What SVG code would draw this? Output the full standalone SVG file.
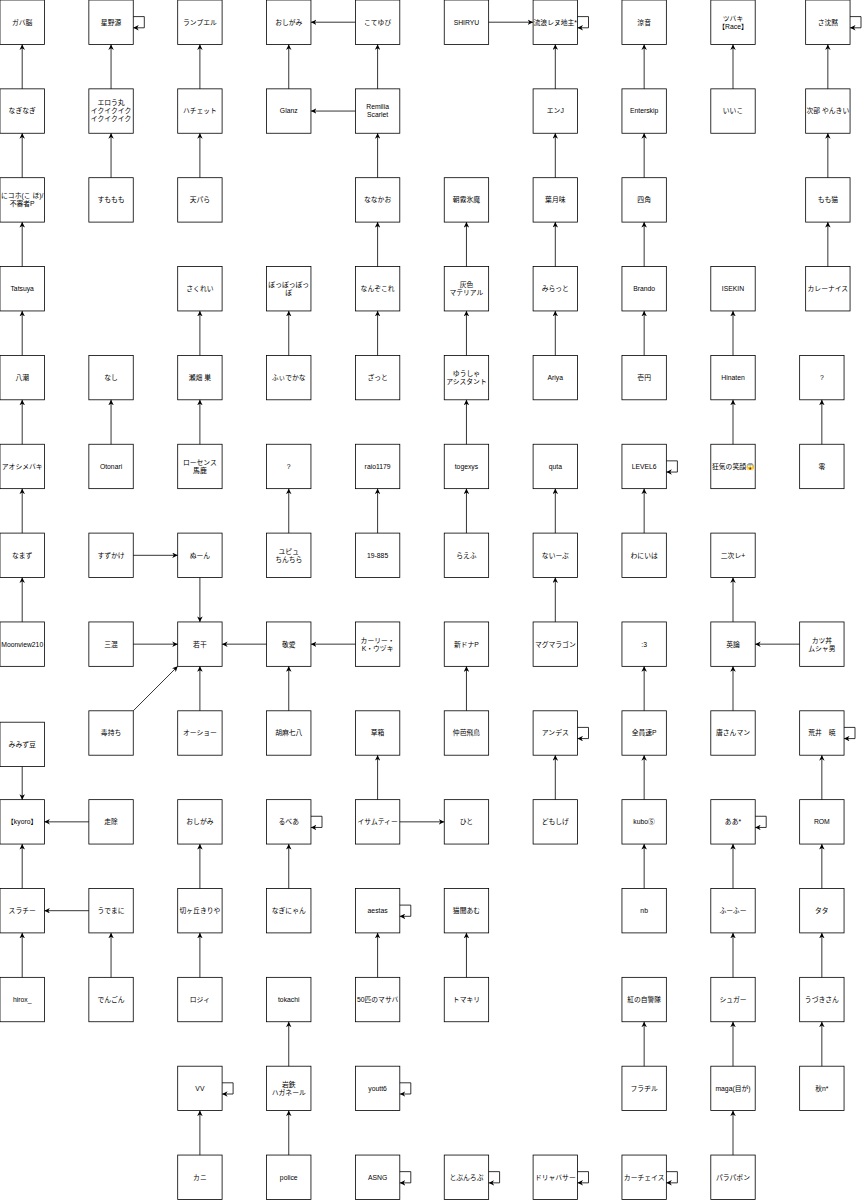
<svg xmlns="http://www.w3.org/2000/svg" width="866" height="1200" viewBox="0 0 866 1200">
<style>
rect{fill:#fff;stroke:#000;stroke-width:0.8}
text{font-family:"Liberation Sans","Noto Sans CJK JP",sans-serif;font-size:6.8px;text-anchor:middle;fill:#000}
#edges path{fill:none;stroke:#000;stroke-width:0.8;marker-end:url(#a)}
</style>
<defs>
<marker id="a" viewBox="0 0 10 10" refX="10" refY="5" markerWidth="5.5" markerHeight="5.5" markerUnits="userSpaceOnUse" orient="auto"><path d="M0,0 L10,5 L0,10 L3,5 z" fill="#000"/></marker>
<rect id="b" width="44.4" height="44.4"/>
</defs>
<g id="nodes">
<!-- row 0 -->
<g id="n0_0" transform="translate(0,0)"><use href="#b"/><text x="22.2" y="24.6">ガバ脳</text></g>
<g id="n1_0" transform="translate(88.85,0)"><use href="#b"/><text x="22.2" y="24.6">星野源</text></g>
<g id="n2_0" transform="translate(177.7,0)"><use href="#b"/><text x="22.2" y="24.6">ランプエル</text></g>
<g id="n3_0" transform="translate(266.55,0)"><use href="#b"/><text x="22.2" y="24.6">おしがみ</text></g>
<g id="n4_0" transform="translate(355.4,0)"><use href="#b"/><text x="22.2" y="24.6">こてゆび</text></g>
<g id="n5_0" transform="translate(444.25,0)"><use href="#b"/><text x="22.2" y="24.6">SHIRYU</text></g>
<g id="n6_0" transform="translate(533.1,0)"><use href="#b"/><text x="22.2" y="24.6">流浪レヌ地主*</text></g>
<g id="n7_0" transform="translate(621.95,0)"><use href="#b"/><text x="22.2" y="24.6">涼音</text></g>
<g id="n8_0" transform="translate(710.8,0)"><use href="#b"/><text x="22.2" y="20.6">ツバキ<tspan x="22.2" dy="8">【Race】</tspan></text></g>
<g id="n9_0" transform="translate(805.65,0)"><use href="#b"/><text x="22.2" y="24.6">さ沈黙</text></g>
<!-- row 1 -->
<g id="n0_1" transform="translate(0,88.85)"><use href="#b"/><text x="22.2" y="24.6">なぎなぎ</text></g>
<g id="n1_1" transform="translate(88.85,88.85)"><use href="#b"/><text x="22.2" y="16.4">エロう丸<tspan x="22.2" dy="8">イクイクイク</tspan><tspan x="22.2" dy="8">イクイクイク</tspan></text></g>
<g id="n2_1" transform="translate(177.7,88.85)"><use href="#b"/><text x="22.2" y="24.6">ハチェット</text></g>
<g id="n3_1" transform="translate(266.55,88.85)"><use href="#b"/><text x="22.2" y="24.6">Glanz</text></g>
<g id="n4_1" transform="translate(355.4,88.85)"><use href="#b"/><text x="22.2" y="20.6">Remilia<tspan x="22.2" dy="8">Scarlet</tspan></text></g>
<g id="n6_1" transform="translate(533.1,88.85)"><use href="#b"/><text x="22.2" y="24.6">エンJ</text></g>
<g id="n7_1" transform="translate(621.95,88.85)"><use href="#b"/><text x="22.2" y="24.6">Enterskip</text></g>
<g id="n8_1" transform="translate(710.8,88.85)"><use href="#b"/><text x="22.2" y="24.6">いいこ</text></g>
<g id="n9_1" transform="translate(805.65,88.85)"><use href="#b"/><text x="22.2" y="24.6">次部 やんきい</text></g>
<!-- row 2 -->
<g id="n0_2" transform="translate(0,177.7)"><use href="#b"/><text x="22.2" y="20.6">にコホ(こ ほ)/<tspan x="22.2" dy="8">不審者P</tspan></text></g>
<g id="n1_2" transform="translate(88.85,177.7)"><use href="#b"/><text x="22.2" y="24.6">すももも</text></g>
<g id="n2_2" transform="translate(177.7,177.7)"><use href="#b"/><text x="22.2" y="24.6">天パら</text></g>
<g id="n4_2" transform="translate(355.4,177.7)"><use href="#b"/><text x="22.2" y="24.6">ななかお</text></g>
<g id="n5_2" transform="translate(444.25,177.7)"><use href="#b"/><text x="22.2" y="24.6">朝霧氷魔</text></g>
<g id="n6_2" transform="translate(533.1,177.7)"><use href="#b"/><text x="22.2" y="24.6">葉月味</text></g>
<g id="n7_2" transform="translate(621.95,177.7)"><use href="#b"/><text x="22.2" y="24.6">四角</text></g>
<g id="n9_2" transform="translate(805.65,177.7)"><use href="#b"/><text x="22.2" y="24.6">もも猫</text></g>
<!-- row 3 -->
<g id="n0_3" transform="translate(0,266.55)"><use href="#b"/><text x="22.2" y="24.6">Tatsuya</text></g>
<g id="n2_3" transform="translate(177.7,266.55)"><use href="#b"/><text x="22.2" y="24.6">さくれい</text></g>
<g id="n3_3" transform="translate(266.55,266.55)"><use href="#b"/><text x="22.2" y="20.6">ぽっぽっぽっ<tspan x="22.2" dy="8">ぽ</tspan></text></g>
<g id="n4_3" transform="translate(355.4,266.55)"><use href="#b"/><text x="22.2" y="24.6">なんぞこれ</text></g>
<g id="n5_3" transform="translate(444.25,266.55)"><use href="#b"/><text x="22.2" y="20.6">灰色<tspan x="22.2" dy="8">マテリアル</tspan></text></g>
<g id="n6_3" transform="translate(533.1,266.55)"><use href="#b"/><text x="22.2" y="24.6">みらっと</text></g>
<g id="n7_3" transform="translate(621.95,266.55)"><use href="#b"/><text x="22.2" y="24.6">Brando</text></g>
<g id="n8_3" transform="translate(710.8,266.55)"><use href="#b"/><text x="22.2" y="24.6">ISEKIN</text></g>
<g id="n9_3" transform="translate(805.65,266.55)"><use href="#b"/><text x="22.2" y="24.6">カレーナイス</text></g>
<!-- row 4 -->
<g id="n0_4" transform="translate(0,355.4)"><use href="#b"/><text x="22.2" y="24.6">八潮</text></g>
<g id="n1_4" transform="translate(88.85,355.4)"><use href="#b"/><text x="22.2" y="24.6">なし</text></g>
<g id="n2_4" transform="translate(177.7,355.4)"><use href="#b"/><text x="22.2" y="24.6">瀬畑 巣</text></g>
<g id="n3_4" transform="translate(266.55,355.4)"><use href="#b"/><text x="22.2" y="24.6">ふぃでかな</text></g>
<g id="n4_4" transform="translate(355.4,355.4)"><use href="#b"/><text x="22.2" y="24.6">ざっと</text></g>
<g id="n5_4" transform="translate(444.25,355.4)"><use href="#b"/><text x="22.2" y="20.6">ゆうしゃ<tspan x="22.2" dy="8">アシスタント</tspan></text></g>
<g id="n6_4" transform="translate(533.1,355.4)"><use href="#b"/><text x="22.2" y="24.6">Ariya</text></g>
<g id="n7_4" transform="translate(621.95,355.4)"><use href="#b"/><text x="22.2" y="24.6">壱円</text></g>
<g id="n8_4" transform="translate(710.8,355.4)"><use href="#b"/><text x="22.2" y="24.6">Hinaten</text></g>
<g id="n9_4" transform="translate(799.65,355.4)"><use href="#b"/><text x="22.2" y="24.6">?</text></g>
<!-- row 5 -->
<g id="n0_5" transform="translate(0,444.25)"><use href="#b"/><text x="22.2" y="24.6">アオシメバキ</text></g>
<g id="n1_5" transform="translate(88.85,444.25)"><use href="#b"/><text x="22.2" y="24.6">Otonari</text></g>
<g id="n2_5" transform="translate(177.7,444.25)"><use href="#b"/><text x="22.2" y="20.6">ローセンス<tspan x="22.2" dy="8">馬鹿</tspan></text></g>
<g id="n3_5" transform="translate(266.55,444.25)"><use href="#b"/><text x="22.2" y="24.6">?</text></g>
<g id="n4_5" transform="translate(355.4,444.25)"><use href="#b"/><text x="22.2" y="24.6">raio1179</text></g>
<g id="n5_5" transform="translate(444.25,444.25)"><use href="#b"/><text x="22.2" y="24.6">togexys</text></g>
<g id="n6_5" transform="translate(533.1,444.25)"><use href="#b"/><text x="22.2" y="24.6">quta</text></g>
<g id="n7_5" transform="translate(621.95,444.25)"><use href="#b"/><text x="22.2" y="24.6">LEVEL6</text></g>
<g id="n8_5" transform="translate(710.8,444.25)"><use href="#b"/><text x="22.2" y="24.6">狂気の笑顔😱</text></g>
<g id="n9_5" transform="translate(799.65,444.25)"><use href="#b"/><text x="22.2" y="24.6">零</text></g>
<!-- row 6 -->
<g id="n0_6" transform="translate(0,533.1)"><use href="#b"/><text x="22.2" y="24.6">なまず</text></g>
<g id="n1_6" transform="translate(88.85,533.1)"><use href="#b"/><text x="22.2" y="24.6">すずかけ</text></g>
<g id="n2_6" transform="translate(177.7,533.1)"><use href="#b"/><text x="22.2" y="24.6">ぬーん</text></g>
<g id="n3_6" transform="translate(266.55,533.1)"><use href="#b"/><text x="22.2" y="20.6">ユピュ<tspan x="22.2" dy="8">ちんちら</tspan></text></g>
<g id="n4_6" transform="translate(355.4,533.1)"><use href="#b"/><text x="22.2" y="24.6">19-885</text></g>
<g id="n5_6" transform="translate(444.25,533.1)"><use href="#b"/><text x="22.2" y="24.6">らえふ</text></g>
<g id="n6_6" transform="translate(533.1,533.1)"><use href="#b"/><text x="22.2" y="24.6">ないーぶ</text></g>
<g id="n7_6" transform="translate(621.95,533.1)"><use href="#b"/><text x="22.2" y="24.6">わにいは</text></g>
<g id="n8_6" transform="translate(710.8,533.1)"><use href="#b"/><text x="22.2" y="24.6">二次レ+</text></g>
<!-- row 7 -->
<g id="n0_7" transform="translate(0,621.95)"><use href="#b"/><text x="22.2" y="24.6">Moonview210</text></g>
<g id="n1_7" transform="translate(88.85,621.95)"><use href="#b"/><text x="22.2" y="24.6">三混</text></g>
<g id="n2_7" transform="translate(177.7,621.95)"><use href="#b"/><text x="22.2" y="24.6">若干</text></g>
<g id="n3_7" transform="translate(266.55,621.95)"><use href="#b"/><text x="22.2" y="24.6">敬愛</text></g>
<g id="n4_7" transform="translate(355.4,621.95)"><use href="#b"/><text x="22.2" y="20.6">カーリー・<tspan x="22.2" dy="8">K・ウヅキ</tspan></text></g>
<g id="n5_7" transform="translate(444.25,621.95)"><use href="#b"/><text x="22.2" y="24.6">新ドナP</text></g>
<g id="n6_7" transform="translate(533.1,621.95)"><use href="#b"/><text x="22.2" y="24.6">マグマラゴン</text></g>
<g id="n7_7" transform="translate(621.95,621.95)"><use href="#b"/><text x="22.2" y="24.6">:3</text></g>
<g id="n8_7" transform="translate(710.8,621.95)"><use href="#b"/><text x="22.2" y="24.6">英論</text></g>
<g id="n9_7" transform="translate(799.65,621.95)"><use href="#b"/><text x="22.2" y="20.6">カツ丼<tspan x="22.2" dy="8">ムシャ男</tspan></text></g>
<!-- row 8 -->
<g id="n0_8" transform="translate(0,722.2)"><use href="#b"/><text x="22.2" y="24.6">みみず豆</text></g>
<g id="n1_8" transform="translate(88.85,710.8)"><use href="#b"/><text x="22.2" y="24.6">毒持ち</text></g>
<g id="n2_8" transform="translate(177.7,710.8)"><use href="#b"/><text x="22.2" y="24.6">オーショー</text></g>
<g id="n3_8" transform="translate(266.55,710.8)"><use href="#b"/><text x="22.2" y="24.6">胡麻七八</text></g>
<g id="n4_8" transform="translate(355.4,710.8)"><use href="#b"/><text x="22.2" y="24.6">草箱</text></g>
<g id="n5_8" transform="translate(444.25,710.8)"><use href="#b"/><text x="22.2" y="24.6">仲芭飛鳥</text></g>
<g id="n6_8" transform="translate(533.1,710.8)"><use href="#b"/><text x="22.2" y="24.6">アンデス</text></g>
<g id="n7_8" transform="translate(621.95,710.8)"><use href="#b"/><text x="22.2" y="24.6">全員速P</text></g>
<g id="n8_8" transform="translate(710.8,710.8)"><use href="#b"/><text x="22.2" y="24.6">唐さんマン</text></g>
<g id="n9_8" transform="translate(799.65,710.8)"><use href="#b"/><text x="22.2" y="24.6">荒井　暁</text></g>
<!-- row 9 -->
<g id="n0_9" transform="translate(0,799.65)"><use href="#b"/><text x="22.2" y="24.6">【kyoro】</text></g>
<g id="n1_9" transform="translate(88.85,799.65)"><use href="#b"/><text x="22.2" y="24.6">走除</text></g>
<g id="n2_9" transform="translate(177.7,799.65)"><use href="#b"/><text x="22.2" y="24.6">おしがみ</text></g>
<g id="n3_9" transform="translate(266.55,799.65)"><use href="#b"/><text x="22.2" y="24.6">るべあ</text></g>
<g id="n4_9" transform="translate(355.4,799.65)"><use href="#b"/><text x="22.2" y="24.6">イサムティー</text></g>
<g id="n5_9" transform="translate(444.25,799.65)"><use href="#b"/><text x="22.2" y="24.6">ひと</text></g>
<g id="n6_9" transform="translate(533.1,799.65)"><use href="#b"/><text x="22.2" y="24.6">どもしげ</text></g>
<g id="n7_9" transform="translate(621.95,799.65)"><use href="#b"/><text x="22.2" y="24.6">kubo⑤</text></g>
<g id="n8_9" transform="translate(710.8,799.65)"><use href="#b"/><text x="22.2" y="24.6">ああ*</text></g>
<g id="n9_9" transform="translate(799.65,799.65)"><use href="#b"/><text x="22.2" y="24.6">ROM</text></g>
<!-- row 10 -->
<g id="n0_10" transform="translate(0,888.5)"><use href="#b"/><text x="22.2" y="24.6">スラチー</text></g>
<g id="n1_10" transform="translate(88.85,888.5)"><use href="#b"/><text x="22.2" y="24.6">うでまに</text></g>
<g id="n2_10" transform="translate(177.7,888.5)"><use href="#b"/><text x="22.2" y="24.6">切ヶ丘きりや</text></g>
<g id="n3_10" transform="translate(266.55,888.5)"><use href="#b"/><text x="22.2" y="24.6">なぎにゃん</text></g>
<g id="n4_10" transform="translate(355.4,888.5)"><use href="#b"/><text x="22.2" y="24.6">aestas</text></g>
<g id="n5_10" transform="translate(444.25,888.5)"><use href="#b"/><text x="22.2" y="24.6">猫聞あむ</text></g>
<g id="n7_10" transform="translate(621.95,888.5)"><use href="#b"/><text x="22.2" y="24.6">nb</text></g>
<g id="n8_10" transform="translate(710.8,888.5)"><use href="#b"/><text x="22.2" y="24.6">ふーふー</text></g>
<g id="n9_10" transform="translate(799.65,888.5)"><use href="#b"/><text x="22.2" y="24.6">タタ</text></g>
<!-- row 11 -->
<g id="n0_11" transform="translate(0,977.35)"><use href="#b"/><text x="22.2" y="24.6">hirox_</text></g>
<g id="n1_11" transform="translate(88.85,977.35)"><use href="#b"/><text x="22.2" y="24.6">でんごん</text></g>
<g id="n2_11" transform="translate(177.7,977.35)"><use href="#b"/><text x="22.2" y="24.6">ロジィ</text></g>
<g id="n3_11" transform="translate(266.55,977.35)"><use href="#b"/><text x="22.2" y="24.6">tokachi</text></g>
<g id="n4_11" transform="translate(355.4,977.35)"><use href="#b"/><text x="22.2" y="24.6">50匹のマサバ</text></g>
<g id="n5_11" transform="translate(444.25,977.35)"><use href="#b"/><text x="22.2" y="24.6">トマキリ</text></g>
<g id="n7_11" transform="translate(621.95,977.35)"><use href="#b"/><text x="22.2" y="24.6">紅の自警隊</text></g>
<g id="n8_11" transform="translate(710.8,977.35)"><use href="#b"/><text x="22.2" y="24.6">シュガー</text></g>
<g id="n9_11" transform="translate(799.65,977.35)"><use href="#b"/><text x="22.2" y="24.6">うづきさん</text></g>
<!-- row 12 -->
<g id="n2_12" transform="translate(177.7,1066.2)"><use href="#b"/><text x="22.2" y="24.6">VV</text></g>
<g id="n3_12" transform="translate(266.55,1066.2)"><use href="#b"/><text x="22.2" y="20.6">岩鉄<tspan x="22.2" dy="8">ハガネール</tspan></text></g>
<g id="n4_12" transform="translate(355.4,1066.2)"><use href="#b"/><text x="22.2" y="24.6">youtt6</text></g>
<g id="n7_12" transform="translate(621.95,1066.2)"><use href="#b"/><text x="22.2" y="24.6">フラヂル</text></g>
<g id="n8_12" transform="translate(710.8,1066.2)"><use href="#b"/><text x="22.2" y="24.6">maga(目が)</text></g>
<g id="n9_12" transform="translate(799.65,1066.2)"><use href="#b"/><text x="22.2" y="24.6">秋n*</text></g>
<!-- row 13 -->
<g id="n2_13" transform="translate(177.7,1155.05)"><use href="#b"/><text x="22.2" y="24.6">カニ</text></g>
<g id="n3_13" transform="translate(266.55,1155.05)"><use href="#b"/><text x="22.2" y="24.6">police</text></g>
<g id="n4_13" transform="translate(355.4,1155.05)"><use href="#b"/><text x="22.2" y="24.6">ASNG</text></g>
<g id="n5_13" transform="translate(444.25,1155.05)"><use href="#b"/><text x="22.2" y="24.6">とぷんろぷ</text></g>
<g id="n6_13" transform="translate(533.1,1155.05)"><use href="#b"/><text x="22.2" y="24.6">ドリャバサー</text></g>
<g id="n7_13" transform="translate(621.95,1155.05)"><use href="#b"/><text x="22.2" y="24.6">カーチェイス</text></g>
<g id="n8_13" transform="translate(710.8,1155.05)"><use href="#b"/><text x="22.2" y="24.6">パラパボン</text></g>
</g>
<g id="edges">
<!-- col 0 -->
<path d="M22.2,88.85V44.4"/>
<path d="M22.2,177.7V133.25"/>
<path d="M22.2,266.55V222.1"/>
<path d="M22.2,355.4V310.95"/>
<path d="M22.2,444.25V399.8"/>
<path d="M22.2,533.1V488.65"/>
<path d="M22.2,621.95V577.5"/>
<path d="M22.2,766.6V799.65"/>
<path d="M22.2,888.5V844.05"/>
<path d="M22.2,977.35V932.9"/>
<!-- col 1 -->
<path d="M111.05,88.85V44.4"/>
<path d="M111.05,177.7V133.25"/>
<path d="M111.05,444.25V399.8"/>
<path d="M111.05,977.35V932.9"/>
<!-- col 2 -->
<path d="M199.9,88.85V44.4"/>
<path d="M199.9,177.7V133.25"/>
<path d="M199.9,355.4V310.95"/>
<path d="M199.9,444.25V399.8"/>
<path d="M199.9,577.5V621.95"/>
<path d="M199.9,710.8V666.35"/>
<path d="M199.9,888.5V844.05"/>
<path d="M199.9,977.35V932.9"/>
<path d="M199.9,1155.05V1110.6"/>
<!-- col 3 -->
<path d="M288.75,88.85V44.4"/>
<path d="M288.75,355.4V310.95"/>
<path d="M288.75,533.1V488.65"/>
<path d="M288.75,710.8V666.35"/>
<path d="M288.75,888.5V844.05"/>
<path d="M288.75,1066.2V1021.75"/>
<path d="M288.75,1155.05V1110.6"/>
<!-- col 4 -->
<path d="M377.6,88.85V44.4"/>
<path d="M377.6,177.7V133.25"/>
<path d="M377.6,266.55V222.1"/>
<path d="M377.6,355.4V310.95"/>
<path d="M377.6,533.1V488.65"/>
<path d="M377.6,799.65V755.2"/>
<path d="M377.6,977.35V932.9"/>
<!-- col 5 -->
<path d="M466.45,266.55V222.1"/>
<path d="M466.45,355.4V310.95"/>
<path d="M466.45,444.25V399.8"/>
<path d="M466.45,533.1V488.65"/>
<path d="M466.45,710.8V666.35"/>
<path d="M466.45,977.35V932.9"/>
<!-- col 6 -->
<path d="M555.3,88.85V44.4"/>
<path d="M555.3,177.7V133.25"/>
<path d="M555.3,266.55V222.1"/>
<path d="M555.3,355.4V310.95"/>
<path d="M555.3,533.1V488.65"/>
<path d="M555.3,621.95V577.5"/>
<path d="M555.3,799.65V755.2"/>
<!-- col 7 -->
<path d="M644.15,88.85V44.4"/>
<path d="M644.15,177.7V133.25"/>
<path d="M644.15,266.55V222.1"/>
<path d="M644.15,355.4V310.95"/>
<path d="M644.15,533.1V488.65"/>
<path d="M644.15,710.8V666.35"/>
<path d="M644.15,799.65V755.2"/>
<path d="M644.15,888.5V844.05"/>
<path d="M644.15,1066.2V1021.75"/>
<!-- col 8 -->
<path d="M733,88.85V44.4"/>
<path d="M733,355.4V310.95"/>
<path d="M733,444.25V399.8"/>
<path d="M733,621.95V577.5"/>
<path d="M733,710.8V666.35"/>
<path d="M733,888.5V844.05"/>
<path d="M733,977.35V932.9"/>
<path d="M733,1066.2V1021.75"/>
<path d="M733,1155.05V1110.6"/>
<!-- col 9 -->
<path d="M827.85,88.85V44.4"/>
<path d="M827.85,177.7V133.25"/>
<path d="M827.85,266.55V222.1"/>
<path d="M821.85,444.25V399.8"/>
<path d="M821.85,799.65V755.2"/>
<path d="M821.85,888.5V844.05"/>
<path d="M821.85,977.35V932.9"/>
<path d="M821.85,1066.2V1021.75"/>
<!-- horizontal -->
<path d="M355.4,22.2H310.95"/>
<path d="M355.4,111.05H310.95"/>
<path d="M488.65,22.2H533.1"/>
<path d="M133.25,555.3H177.7"/>
<path d="M133.25,644.15H177.7"/>
<path d="M266.55,644.15H222.1"/>
<path d="M355.4,644.15H310.95"/>
<path d="M799.65,644.15H755.2"/>
<path d="M88.85,821.85H44.4"/>
<path d="M399.8,821.85H444.25"/>
<path d="M88.85,910.7H44.4"/>
<!-- diagonal -->
<path d="M133.25,710.8L177.7,666.35"/>
<!-- self loops -->
<path d="M133.25,16.6H144.3V27.8H133.25"/>
<path d="M577.5,16.6H588.5V27.8H577.5"/>
<path d="M850.05,16.6H861V27.8H850.05"/>
<path d="M666.35,460.85H677.4V472.05H666.35"/>
<path d="M577.5,727.4H588.5V738.6H577.5"/>
<path d="M844.05,727.4H855V738.6H844.05"/>
<path d="M310.95,816.25H322V827.45H310.95"/>
<path d="M755.2,816.25H766.2V827.45H755.2"/>
<path d="M399.8,905.1H410.8V916.3H399.8"/>
<path d="M222.1,1082.8H233.1V1094H222.1"/>
<path d="M399.8,1082.8H410.8V1094H399.8"/>
<path d="M399.8,1171.65H410.8V1182.85H399.8"/>
<path d="M488.65,1171.65H499.6V1182.85H488.65"/>
<path d="M577.5,1171.65H588.5V1182.85H577.5"/>
<path d="M666.35,1171.65H677.4V1182.85H666.35"/>
</g>
</svg>
